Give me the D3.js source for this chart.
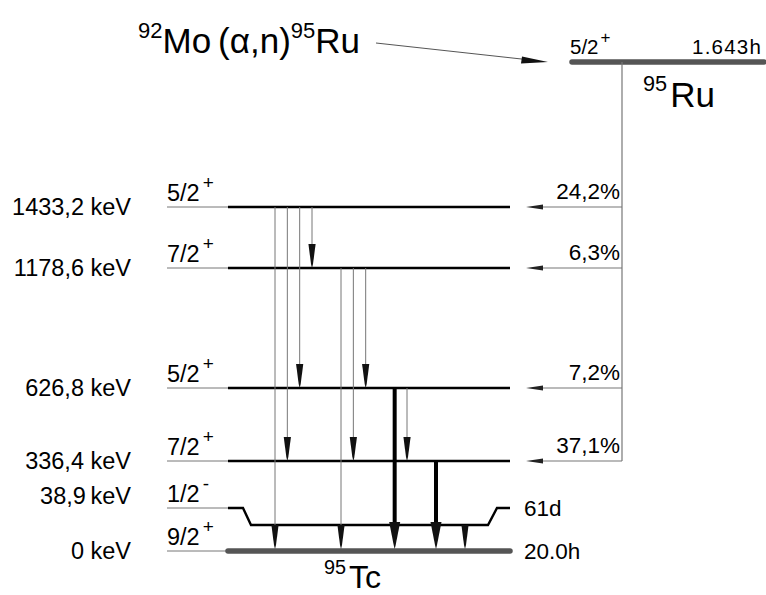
<!DOCTYPE html>
<html>
<head>
<meta charset="utf-8">
<script src="https://cdn.jsdelivr.net/npm/d3@7/dist/d3.min.js"></script>
<style>
  body { margin: 0; background: #fff; }
  svg { display: block; }
  text { font-family: "Liberation Sans", Arial, sans-serif; fill: #000; }
</style>
</head>
<body>
<svg id="chart" width="766" height="595"></svg>
<script>
// Decay scheme of 95Ru (EC/β+) to levels of 95Tc

// Daughter levels (keV) and their labels
const levelEnergies = [0, 38.9, 336.4, 626.8, 1178.6, 1433.2];
const levelLabels   = ["0 keV", "38,9\u2009keV", "336,4 keV", "626,8 keV", "1178,6 keV", "1433,2 keV"];
const levelSpins    = ["9/2", "1/2", "7/2", "5/2", "7/2", "5/2"];
const levelParities = ["+", "-", "+", "+", "+", "+"];

// Feeding of daughter levels from the parent
const feedEnergies = [1433.2, 1178.6, 626.8, 336.4];
const feedLabels   = ["24,2%", "6,3%", "7,2%", "37,1%"];

// Gamma transitions (initial -> final level) and line weight
const gammaFrom   = [1433.2, 1433.2, 1433.2, 1433.2, 1178.6, 1178.6, 1178.6, 626.8, 626.8, 336.4, 38.9];
const gammaTo     = [0, 336.4, 626.8, 1178.6, 0, 336.4, 626.8, 0, 336.4, 0, 0];
const gammaStrong = [false, false, false, false, false, false, false, true, false, true, false];

// Parent / daughter annotations
const parentSpin = "5/2", parentParity = "+", parentHalfLife = "1.643h";
const groundHalfLife = "20.0h", isomerHalfLife = "61d";

const svg = d3.select("#chart");

// Level energy -> vertical position (piecewise, the scheme is not to scale)
const y = d3.scaleLinear()
  .domain([0, 38.9, 336.4, 626.8, 1178.6, 1433.2])
  .range([551, 525, 461, 388, 268, 207]);
const yParent = 62;
const shoulder = 17;          // raised ends of the 1/2- isomer line

// Horizontal layout
const xLabelLine = 167, xLevel0 = 228, xLevel1 = 510;
const xFeed = 622, xFeedTip = 526;

// Gamma slots: grouped by initial level, small gap between groups
const groups = Array.from(new Set(gammaFrom)).sort((a, b) => b - a);
const slot = gammaFrom.map((e, i) => i + 1.35 * groups.indexOf(e));
const xg = d3.scaleLinear().domain([0, d3.max(slot)]).range([275, 465]);

const levelLineY = e => e === 38.9 ? y(e) - shoulder : y(e);

// thin leader lines under the spin labels
svg.append("g").selectAll("line").data(levelEnergies).join("line")
  .attr("x1", xLabelLine).attr("x2", xLevel0)
  .attr("y1", d => levelLineY(d)).attr("y2", d => levelLineY(d))
  .attr("stroke", "#777").attr("stroke-width", 1);

// excited levels
svg.append("g").selectAll("line").data(levelEnergies.filter(e => e > 100)).join("line")
  .attr("x1", xLevel0).attr("x2", xLevel1)
  .attr("y1", d => y(d)).attr("y2", d => y(d))
  .attr("stroke", "#000").attr("stroke-width", 2.6);

// isomeric 1/2- level with raised ends
const yi = y(38.9);
svg.append("path")
  .attr("d", d3.line()([
    [xLevel0, yi - shoulder], [243, yi - shoulder], [251, yi], [488, yi],
    [497, yi - shoulder], [xLevel1, yi - shoulder]
  ]))
  .attr("fill", "none").attr("stroke", "#000").attr("stroke-width", 2.4)
  .attr("stroke-linejoin", "miter");

// ground state
svg.append("line")
  .attr("x1", xLevel0).attr("x2", xLevel1).attr("y1", y(0)).attr("y2", y(0))
  .attr("stroke", "#555").attr("stroke-width", 5.5).attr("stroke-linecap", "round");

// parent level
svg.append("line")
  .attr("x1", 572).attr("x2", 764).attr("y1", yParent).attr("y2", yParent)
  .attr("stroke", "#555").attr("stroke-width", 5.5).attr("stroke-linecap", "round");

// gamma transitions
const gg = svg.append("g");
gammaFrom.forEach((e0, i) => {
  const x = xg(slot[i]);
  const strong = gammaStrong[i];
  const y0 = y(e0);
  const tip = gammaTo[i] === 0 ? y(0) - 2 : y(gammaTo[i]);
  const len = strong ? 27 : 24, w = strong ? 5.5 : 3.6;
  gg.append("line")
    .attr("x1", x).attr("x2", x).attr("y1", y0).attr("y2", tip - len + 2)
    .attr("stroke", strong ? "#000" : "#777").attr("stroke-width", strong ? 4 : 1);
  gg.append("path")
    .attr("d", `M${x - w},${tip - len} L${x + w},${tip - len} L${x + 1},${tip - 4} L${x},${tip} L${x - 1},${tip - 4} Z`)
    .attr("fill", "#111");
});

// feeding from the parent
svg.append("line")
  .attr("x1", xFeed).attr("x2", xFeed).attr("y1", yParent).attr("y2", y(336.4))
  .attr("stroke", "#777").attr("stroke-width", 1.2);
const fg = svg.append("g");
feedEnergies.forEach((e, i) => {
  const yy = y(e);
  fg.append("line").attr("x1", xFeed).attr("x2", xFeedTip + 10).attr("y1", yy).attr("y2", yy)
    .attr("stroke", "#777").attr("stroke-width", 1.2);
  fg.append("path")
    .attr("d", `M${xFeedTip},${yy} L${xFeedTip + 17},${yy - 2.6} L${xFeedTip + 17},${yy + 2.6} Z`)
    .attr("fill", "#222");
  fg.append("text").attr("x", 620).attr("y", yy - 8)
    .attr("text-anchor", "end").attr("font-size", 22.5).text(feedLabels[i]);
});

// energy labels
svg.append("g").selectAll("text").data(levelEnergies).join("text")
  .attr("x", 131).attr("y", d => levelLineY(d) + (d === 38.9 ? -4 : 8))
  .attr("text-anchor", "end").attr("font-size", 23.5)
  .text((d, i) => levelLabels[i]);

// spin/parity labels
const sp = svg.append("g").selectAll("text").data(levelEnergies).join("text")
  .attr("x", xLabelLine).attr("y", d => levelLineY(d) - 6)
  .attr("font-size", 23.5);
sp.append("tspan").text((d, i) => levelSpins[i]);
sp.append("tspan").attr("dy", -12).attr("dx", 3).attr("font-size", 19)
  .text((d, i) => levelParities[i]);

// parent annotations
const ps = svg.append("text").attr("x", 570).attr("y", yParent - 8).attr("font-size", 20.5);
ps.append("tspan").text(parentSpin);
ps.append("tspan").attr("dy", -11).attr("dx", 2).attr("font-size", 17).text(parentParity);
svg.append("text").attr("x", 762).attr("y", yParent - 8).attr("text-anchor", "end")
  .attr("font-size", 20.5).attr("letter-spacing", 1.2).text(parentHalfLife);

// half-lives of the daughter states
svg.append("text").attr("x", 524).attr("y", yi - shoulder + 8).attr("font-size", 22.5).text(isomerHalfLife);
svg.append("text").attr("x", 524).attr("y", y(0) + 8).attr("font-size", 22.5).text(groundHalfLife);

// nuclide symbols
function nuclide(x, yb, mass, sym, size) {
  const t = svg.append("text").attr("x", x).attr("y", yb).attr("font-size", size);
  t.append("tspan").attr("font-size", size * 0.62).attr("dy", -size * 0.45).text(mass);
  t.append("tspan").attr("dy", size * 0.45).attr("dx", 3).text(sym);
  return t;
}
nuclide(643, 107, "95", "Ru", 35);
nuclide(324, 588, "95", "Tc", 32);

// reaction producing the parent
const r = svg.append("text").attr("x", 138).attr("y", 53).attr("font-size", 35);
r.append("tspan").attr("font-size", 22).attr("dy", -15).text("92");
r.append("tspan").attr("dy", 15).text("Mo\u2009(α,n)");
r.append("tspan").attr("font-size", 22).attr("dy", -15).text("95");
r.append("tspan").attr("dy", 15).text("Ru");

// reaction arrow
svg.append("line").attr("x1", 376).attr("y1", 43).attr("x2", 526).attr("y2", 59.5)
  .attr("stroke", "#555").attr("stroke-width", 1);
svg.append("path")
  .attr("d", `M548,62 L522,56.5 L521,63.5 Z`).attr("fill", "#111");
</script>
</body>
</html>
